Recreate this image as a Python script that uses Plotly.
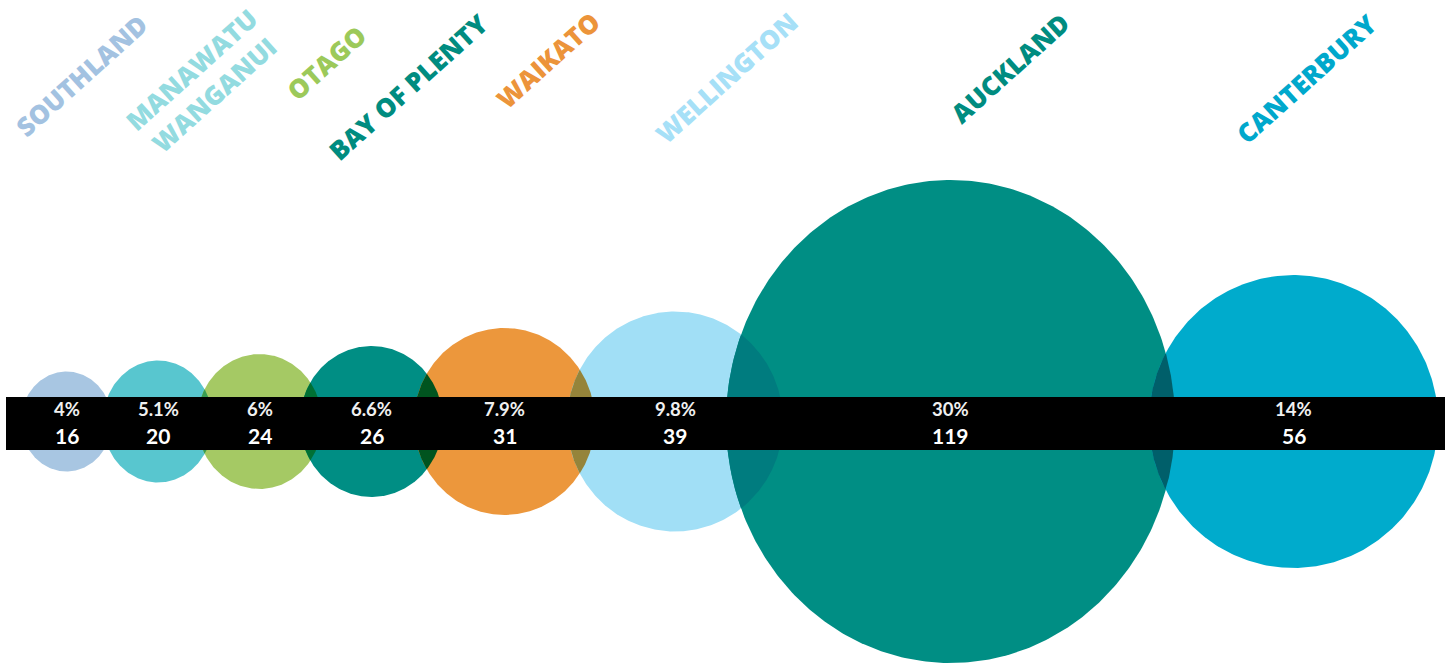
import numpy as np
import plotly.graph_objects as go

# ---------------- data ----------------
regions = ["SOUTHLAND", "MANAWATU<br>WANGANUI", "OTAGO", "BAY OF PLENTY",
           "WAIKATO", "WELLINGTON", "AUCKLAND", "CANTERBURY"]
counts = [16, 20, 24, 26, 31, 39, 119, 56]
shares = ["4%", "5.1%", "6%", "6.6%", "7.9%", "9.8%", "30%", "14%"]

# ---------------- styles ----------------
circle_colors = ["#a8c6e2", "#58c6cf", "#a5c964", "#008e84",
                 "#ec973c", "#a1dff6", "#008e84", "#00abcc"]
label_colors = ["#a3c2e1", "#93dbe0", "#9cc95a", "#008c80",
                "#ec943a", "#a6e0f7", "#008c80", "#00a8cc"]

# ---------------- layout geometry (pixels) ----------------
W, H = 1445, 664
bubble_rx = [45.5, 55, 62.5, 71.5, 90.5, 108, 224.5, 144.5]
bubble_ry = [50, 61, 67.5, 75.5, 93.5, 110, 241.5, 146.5]
first_left = 21
overlaps = [9, 16, 22, 29, 28, 57, 26]
row_y = 421.5
label_pos = [(81, 76), (203, 82), (326, 63), (408, 87), (548, 60),
             (726, 78), (1010, 68), (1306, 79)]
bar_y0, bar_y1, bar_x0 = 397, 450, 6
pct_y, cnt_y = 409, 435

# pack bubbles left to right
cx = []
left = first_left
for i, rx in enumerate(bubble_rx):
    if i > 0:
        left = cx[-1] + bubble_rx[i - 1] - overlaps[i - 1]
    cx.append(left + rx)


def ellipse_pts(x0, y0, rx, ry, n=400):
    t = np.linspace(0, 2 * np.pi, n, endpoint=False)
    return np.c_[x0 + rx * np.cos(t), y0 + ry * np.sin(t)]


def inside(p, x0, y0, rx, ry):
    return ((p[:, 0] - x0) / rx) ** 2 + ((p[:, 1] - y0) / ry) ** 2 <= 1.0


def hex2rgb(h):
    h = h.lstrip("#")
    return [int(h[i:i + 2], 16) for i in (0, 2, 4)]


def multiply(c1, c2):
    a, b = hex2rgb(c1), hex2rgb(c2)
    return "rgb(%d,%d,%d)" % tuple(round(x * y / 255) for x, y in zip(a, b))


fig = go.Figure()

# bubbles
for i in range(len(counts)):
    p = ellipse_pts(cx[i], row_y, bubble_rx[i], bubble_ry[i])
    fig.add_trace(go.Scatter(
        x=np.r_[p[:, 0], p[0, 0]], y=np.r_[p[:, 1], p[0, 1]],
        mode="lines", fill="toself", fillcolor=circle_colors[i],
        line=dict(width=0, color=circle_colors[i]),
        hoverinfo="skip", showlegend=False))

# overlap lenses (multiply blend)
for i in range(len(counts) - 1):
    j = i + 1
    pa = ellipse_pts(cx[i], row_y, bubble_rx[i], bubble_ry[i], 1200)
    pb = ellipse_pts(cx[j], row_y, bubble_rx[j], bubble_ry[j], 1200)
    pts = np.r_[pa[inside(pa, cx[j], row_y, bubble_rx[j], bubble_ry[j])],
                pb[inside(pb, cx[i], row_y, bubble_rx[i], bubble_ry[i])]]
    if len(pts) < 3:
        continue
    c = pts.mean(axis=0)
    order = np.argsort(np.arctan2(pts[:, 1] - c[1], pts[:, 0] - c[0]))
    pts = pts[order]
    col = multiply(circle_colors[i], circle_colors[j])
    fig.add_trace(go.Scatter(
        x=np.r_[pts[:, 0], pts[0, 0]], y=np.r_[pts[:, 1], pts[0, 1]],
        mode="lines", fill="toself", fillcolor=col,
        line=dict(width=0, color=col),
        hoverinfo="skip", showlegend=False))

# black band
fig.add_shape(type="rect", xref="x", yref="y", x0=bar_x0, x1=W,
              y0=bar_y0, y1=bar_y1, fillcolor="black", line=dict(width=0),
              layer="above")

# values inside band
for i in range(len(counts)):
    fig.add_annotation(x=cx[i], y=pct_y, text=shares[i], showarrow=False,
                       xanchor="center", yanchor="middle",
                       font=dict(family="Lato", size=18.5, color="#f0f0f0",
                                 weight="bold"))
    fig.add_annotation(x=cx[i], y=cnt_y, text=str(counts[i]), showarrow=False,
                       xanchor="center", yanchor="middle",
                       font=dict(family="Lato", size=21, color="#ffffff",
                                 weight="bold"))

# rotated region labels
for i, name in enumerate(regions):
    fig.add_annotation(x=label_pos[i][0], y=label_pos[i][1], text=name,
                       showarrow=False, textangle=-42,
                       xanchor="center", yanchor="middle", align="center",
                       font=dict(family="Open Sans", size=26,
                                 color=label_colors[i], weight=800))

fig.update_xaxes(range=[0, W], visible=False, fixedrange=True)
fig.update_yaxes(range=[H, 0], visible=False, fixedrange=True)
fig.update_layout(width=W, height=H, margin=dict(l=0, r=0, t=0, b=0),
                  paper_bgcolor="white", plot_bgcolor="white",
                  showlegend=False)

fig.write_html("out.html", config={"displayModeBar": False},
               post_script="document.body.style.margin='0';"
                           "document.body.style.overflow='hidden';")
